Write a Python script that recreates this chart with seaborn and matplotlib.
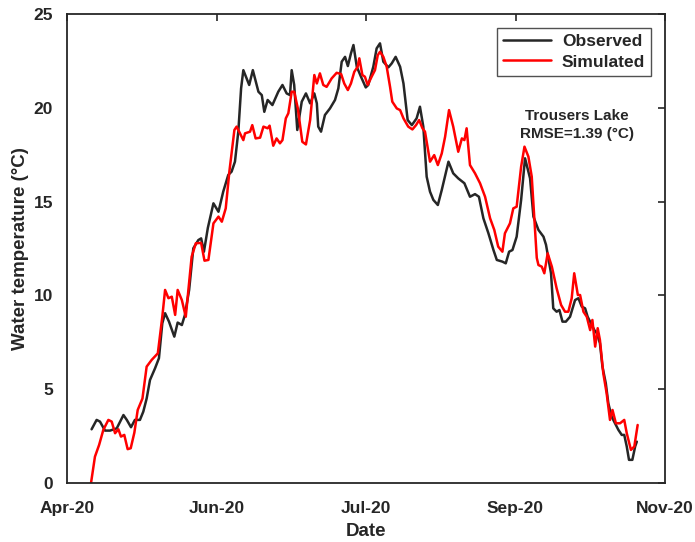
import matplotlib
matplotlib.use("Agg")
import matplotlib.pyplot as plt
import seaborn as sns
import pandas as pd

# days since 1 Apr 2020, water temperature (degC)
obs_day = [8.8, 10.6, 11.8, 13.6, 15.4, 17.8, 20.2, 21.4, 22.9, 24.3, 26.1, 27.3, 28.5, 29.7,
           31.5, 32.9, 34.1, 35.1, 36.5, 38.4, 39.6, 41.1, 42.2, 43.7, 45.2, 47.0, 48.0, 49.0,
           50.4, 52.4, 54.2, 55.9, 57.7, 58.9, 60.1, 61.3, 62.3, 63.1, 65.2, 66.5, 68.5, 69.7,
           70.6, 71.8, 73.5, 75.6, 77.1, 78.6, 79.8, 80.4, 81.3, 82.4, 84.0, 85.5, 87.0, 88.5,
           89.4, 89.9, 90.9, 92.3, 94.1, 95.9, 97.1, 98.3, 99.5, 100.5, 101.6, 102.5, 103.7,
           105.2, 106.9, 107.8, 109.6, 110.8, 112.0, 113.2, 115.0, 116.2, 117.6, 119.2, 120.4,
           121.9, 123.4, 125.1, 126.3, 127.5, 128.7, 129.9, 131.1, 132.7, 134.1, 136.5, 138.2,
           140.0, 142.2, 144.2, 146.0, 147.4, 149.0, 150.8, 152.6, 153.8, 155.8, 157.0, 158.2,
           159.4, 160.9, 162.5, 163.9, 165.7, 166.9, 168.7, 170.5, 171.4, 173.2, 174.0, 175.2,
           176.2, 177.3, 178.5, 180.0, 181.8, 183.0, 184.2, 185.4, 186.3, 187.5, 188.7, 189.6,
           190.7, 191.6, 192.8, 193.7, 194.9, 196.1, 197.3, 198.5, 199.4, 200.3, 201.1, 202.3,
           203.3, 203.9]
obs_temp = [2.86, 3.36, 3.27, 2.79, 2.79, 2.91, 3.62, 3.36, 2.97, 3.36, 3.36, 3.80, 4.50, 5.49,
            6.11, 6.65, 8.51, 9.05, 8.60, 7.80, 8.55, 8.42, 8.96, 10.29, 12.51, 12.95, 13.04, 12.33,
            13.60, 14.91, 14.46, 15.53, 16.42, 16.60, 17.13, 18.73, 21.04, 22.01, 21.22, 22.01,
            20.86, 20.68, 19.79, 20.42, 20.15, 20.86, 21.22, 20.77, 20.68, 22.01, 21.22, 18.82,
            20.33, 20.77, 20.24, 20.77, 20.24, 19.00, 18.73, 19.62, 19.97, 20.42, 21.04, 22.46,
            22.72, 22.23, 22.90, 23.35, 22.19, 21.66, 21.09, 21.22, 22.19, 23.17, 23.44, 22.46,
            22.16, 22.37, 22.72, 22.19, 21.30, 19.35, 19.08, 19.44, 20.06, 19.00, 16.33, 15.53,
            15.09, 14.82, 15.62, 17.13, 16.51, 16.24, 15.98, 15.26, 15.40, 15.26, 14.11, 13.31,
            12.42, 11.89, 11.80, 11.71, 12.33, 12.42, 13.13, 15.09, 17.31, 16.24, 14.20, 13.49,
            13.13, 12.70, 11.18, 9.31, 9.13, 9.22, 8.60, 8.60, 8.86, 9.75, 9.85, 9.40, 9.31,
            8.86, 8.51, 8.15, 7.98, 7.45, 6.20, 5.31, 4.25, 3.53, 3.18, 2.83, 2.56, 2.56, 1.94,
            1.23, 1.23, 1.94, 2.20]

sim_day = [8.6, 10.0, 11.5, 13.0, 14.8, 16.0, 17.2, 18.4, 19.3, 20.5, 21.7, 22.8, 24.1, 25.3,
           27.0, 28.5, 30.3, 32.5, 34.1, 35.1, 36.3, 37.5, 38.7, 39.6, 41.1, 42.5, 44.6, 46.1,
           48.0, 49.2, 50.6, 52.4, 54.2, 55.4, 56.8, 58.1, 59.9, 60.7, 63.1, 63.7, 65.5, 66.3,
           67.5, 69.1, 70.3, 71.8, 72.5, 73.8, 75.0, 76.2, 77.1, 78.3, 79.2, 80.4, 81.3, 82.6,
           84.2, 85.5, 87.0, 88.5, 89.4, 90.5, 91.7, 92.9, 94.7, 96.5, 98.1, 99.2, 100.5, 101.6,
           102.8, 104.0, 104.6, 105.7, 106.6, 107.6, 109.0, 110.2, 111.2, 112.0, 113.2, 114.4,
           115.6, 116.4, 118.0, 119.2, 120.4, 122.1, 123.6, 124.9, 126.0, 127.2, 128.1, 129.9,
           131.4, 132.7, 134.1, 135.3, 136.7, 138.2, 140.0, 141.3, 142.2, 143.0, 144.2, 146.0,
           147.8, 149.6, 151.4, 152.9, 154.3, 155.8, 156.7, 158.5, 159.7, 160.9, 162.5, 163.7,
           165.1, 166.3, 167.5, 168.1, 168.7, 169.9, 170.8, 172.0, 173.5, 175.2, 176.8, 178.2,
           179.4, 180.6, 181.5, 182.8, 183.6, 184.8, 186.0, 187.2, 188.0, 189.0, 189.9, 190.7,
           191.9, 193.1, 194.3, 195.2, 196.4, 197.9, 199.4, 200.3, 201.8, 203.0, 204.2]
sim_temp = [0.00, 1.40, 2.03, 2.83, 3.36, 3.27, 2.65, 2.86, 2.47, 2.56, 1.80, 1.85, 2.68, 3.89,
            4.50, 6.20, 6.56, 6.91, 8.86, 10.29, 9.85, 9.93, 8.96, 10.29, 9.75, 8.86, 12.06, 12.78,
            12.80, 11.85, 11.89, 13.84, 14.20, 13.93, 14.64, 16.60, 18.82, 19.00, 18.28, 18.64,
            18.73, 19.08, 18.37, 18.41, 19.00, 18.91, 19.05, 17.98, 18.37, 18.11, 18.28, 19.44,
            19.71, 20.86, 20.86, 19.97, 18.19, 18.05, 19.35, 21.75, 21.30, 21.84, 21.22, 21.12,
            21.57, 21.87, 21.80, 21.30, 20.95, 21.30, 21.92, 22.19, 22.64, 21.75, 21.66, 21.22,
            21.66, 22.01, 22.81, 22.99, 22.72, 22.19, 21.12, 20.33, 19.97, 19.88, 19.44, 19.00,
            18.85, 19.08, 19.35, 18.91, 18.73, 17.13, 17.48, 16.95, 17.57, 18.46, 19.88, 19.00,
            17.66, 18.37, 18.28, 18.91, 16.95, 16.51, 15.98, 15.26, 14.11, 13.49, 12.60, 12.33,
            13.31, 13.84, 14.64, 14.73, 16.86, 17.93, 17.40, 16.33, 13.49, 12.00, 11.62, 11.53,
            11.18, 12.24, 11.53, 10.38, 9.49, 9.13, 9.13, 9.85, 11.18, 10.02, 10.02, 9.13, 8.86,
            8.15, 8.69, 7.27, 8.25, 7.62, 5.85, 4.78, 3.36, 3.89, 3.18, 3.18, 3.36, 2.65, 1.76,
            1.94, 3.09]

tick_days = [0, 53.5, 107, 160.5, 214]
tick_labels = ["Apr-20", "Jun-20", "Jul-20", "Sep-20", "Nov-20"]

sns.set_style("white")
plt.rcParams["font.family"] = ["Liberation Sans", "DejaVu Sans"]
plt.rcParams["font.weight"] = "bold"

fig = plt.figure(figsize=(6.95, 5.42), dpi=100)
ax = fig.add_axes([0.0964, 0.109, 0.8605, 0.865])

sns.lineplot(x=obs_day, y=obs_temp, ax=ax, color="#262626", lw=1.8,
             estimator=None, label="Observed")
sns.lineplot(x=sim_day, y=sim_temp, ax=ax, color="#ff0000", lw=1.8,
             estimator=None, label="Simulated")

ax.set_xlim(0, 214)
ax.set_ylim(0, 25)
ax.set_xticks(tick_days)
ax.set_xticklabels(tick_labels)
ax.set_yticks([0, 5, 10, 15, 20, 25])
ax.tick_params(direction="in", length=5, width=1.2, color="#262626",
               labelsize=12.5, top=True, right=True, labelcolor="#262626")
ax.tick_params(axis="x", pad=13)
ax.tick_params(axis="y", pad=10)
for lab in ax.get_xticklabels() + ax.get_yticklabels():
    lab.set_fontweight("bold")
for sp in ax.spines.values():
    sp.set_color("#262626")
    sp.set_linewidth(1.3)

ax.set_xlabel("Date", fontsize=13.5, fontweight="bold", color="#262626", labelpad=5)
ax.set_ylabel("Water temperature (°C)", fontsize=13.5, fontweight="bold", color="#262626",
              labelpad=3)

leg = ax.legend(loc="upper right", fontsize=12.5, frameon=True, fancybox=False,
                edgecolor="#262626", handlelength=2.8, borderaxespad=0.8,
                labelspacing=0.3, borderpad=0.35, handletextpad=0.6)
leg.get_frame().set_linewidth(1.0)
for t in leg.get_texts():
    t.set_fontweight("bold")
    t.set_color("#262626")

ax.text(182.5, 19.1, "Trousers Lake\nRMSE=1.39 (°C)", ha="center", va="center",
        fontsize=11, fontweight="bold", color="#262626", linespacing=1.4)

fig.savefig("out.png", dpi=100)
